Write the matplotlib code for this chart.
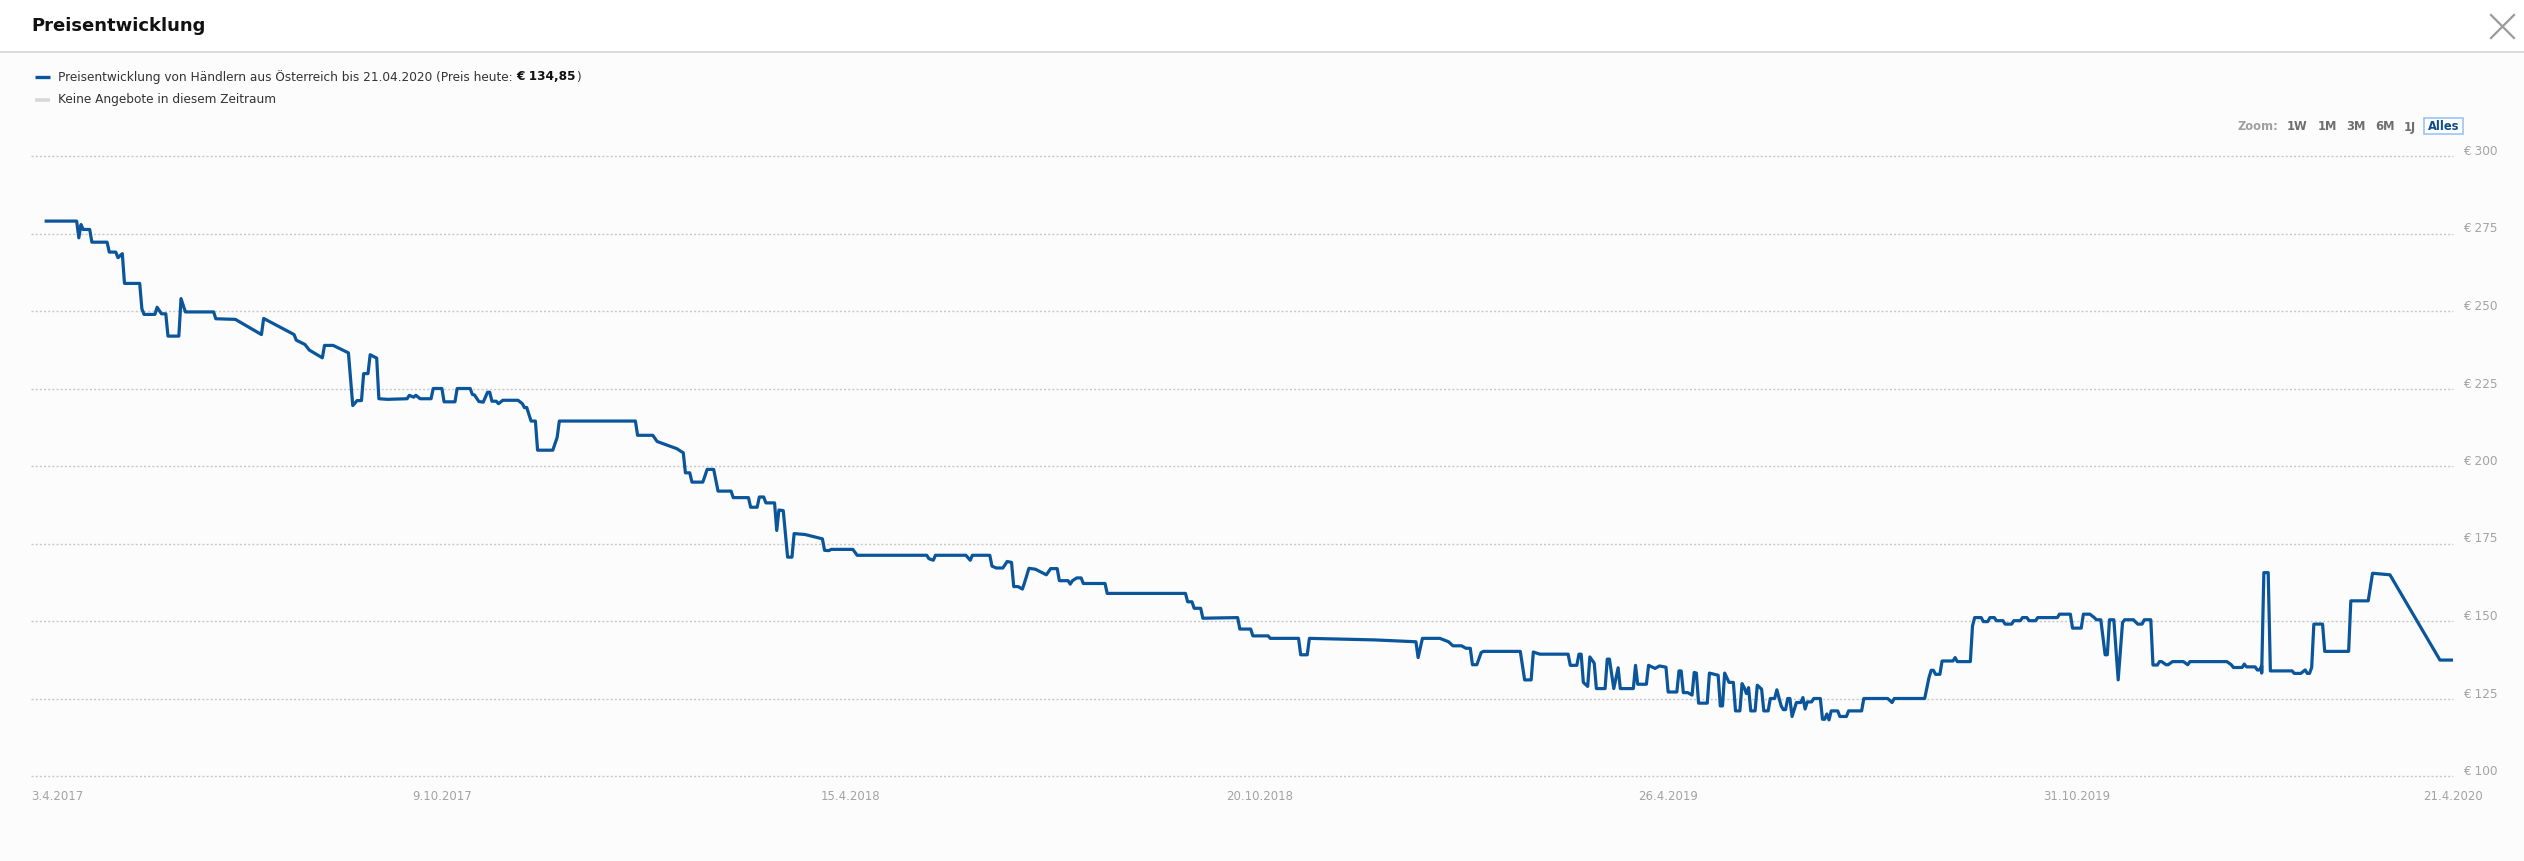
import pandas as pd
import matplotlib.pyplot as plt
import matplotlib.transforms as mtransforms
from matplotlib.lines import Line2D
from matplotlib.patches import Rectangle

W, H = 2524, 861

# price history, days counted from the first x label (3.4.2017)
first_day = "2017-04-03"
last_day = "2020-04-21"

price_days = [
    7, 21, 22, 23, 24, 27, 28, 35, 36, 39, 40, 42, 43, 50, 51, 52, 57, 58, 60, 62,
    63, 68, 69, 71, 84, 85, 94, 106, 107, 121, 122, 126, 128, 134, 135, 139, 146, 148, 150, 152,
    153, 155, 156, 159, 160, 164, 173, 174, 176, 177, 179, 184, 185, 189, 190, 195, 196, 202, 203, 204,
    206, 208, 210, 211, 212, 214, 215, 217, 224, 226, 227,
    228, 230, 232, 233, 240, 242, 243, 278, 279, 286, 288, 297, 299, 300, 301, 303, 304, 309, 311, 314,
    316, 322, 323, 330, 331, 334, 335, 337, 338, 342, 343, 344, 346, 348, 350, 351, 356, 364, 365, 367,
    368, 378, 380, 412, 413, 415, 416, 430, 432, 433, 441, 442, 444, 447,
    449, 451, 452, 454, 456, 457, 459, 462, 467, 469, 472, 473, 477, 478, 479, 481, 483, 484, 494, 495,
    531, 532, 534, 535, 538, 539, 555, 556, 561, 562, 569, 570, 583, 584, 587, 588, 618, 637, 638, 640,
    648, 652, 654, 658, 660, 662, 663, 665, 667, 668,
    685, 687, 690, 691, 694, 707, 708, 711, 712, 713, 714, 716, 717, 719, 720, 724, 725, 726, 728, 730,
    731, 737, 738, 739, 743, 744, 747, 749, 752, 753, 757, 758, 759, 760, 762, 764, 765, 766, 767, 771,
    772, 776, 777, 778, 779, 781, 783, 784, 786, 787, 788, 789, 790, 791, 793, 794, 796, 797, 799, 800,
    802, 803, 805, 806, 807, 808, 809, 810, 812, 814, 815, 816, 817, 819, 820, 823, 824, 825, 826, 827,
    828, 831, 832, 835, 836, 842, 843, 854, 856, 857, 871, 873, 874, 875, 876, 878, 879, 884, 885, 886,
    892,
    893, 894, 897, 898, 900, 901, 903, 904, 907, 908, 911, 912, 915, 916, 918, 919, 922, 923, 932, 933,
    938, 939, 943, 944, 947, 949, 950, 952, 954, 955, 956, 958, 960, 962, 963, 967, 969, 971, 972, 975,
    976, 978, 979, 980, 982, 983, 985, 990, 992, 993, 1010, 1012, 1013, 1017, 1018, 1019, 1023, 1024, 1025, 1026,
    1026, 1027, 1029, 1030, 1040, 1041, 1044, 1046, 1047, 1048, 1049, 1050, 1054, 1055, 1066, 1067, 1075, 1077, 1085, 1108,
    1114,
]

price_eur = [
    279.0, 279.0, 273.6, 277.9, 276.3, 276.3, 272.2, 272.2, 269.0, 269.0, 267.2, 268.5, 258.9, 258.9, 250.7, 248.9, 248.9, 251.2, 249.1, 249.1,
    241.9, 241.9, 254.0, 249.7, 249.7, 247.5, 247.3, 242.4, 247.6, 242.4, 240.6, 239.2, 237.4, 234.9, 238.9, 238.9, 236.5, 219.5, 221.1, 221.1,
    229.8, 229.8, 235.9, 234.8, 221.7, 221.5, 221.7, 222.8, 222.2, 222.8, 221.7, 221.7, 225.0, 225.0, 220.7, 220.7, 225.0, 225.0, 223.1, 222.9,
    220.8, 220.6, 223.8, 223.8, 220.9, 220.9, 220.1, 221.2, 221.2, 220.1, 218.8,
    218.9, 214.5, 214.5, 205.1, 205.1, 209.2, 214.5, 214.5, 209.9, 209.9, 207.9, 205.6, 204.7, 204.3, 197.8, 197.8, 194.8, 194.8, 198.9, 198.9,
    191.9, 191.9, 189.8, 189.8, 186.7, 186.7, 190.0, 190.0, 188.1, 188.1, 179.2, 185.8, 185.6, 170.6, 170.6, 178.2, 177.9, 176.5, 172.8, 172.7,
    173.1, 173.1, 171.2, 171.2, 170.1, 169.6, 171.2, 171.2, 169.6, 171.2, 171.2, 167.7, 167.1, 167.1,
    169.2, 168.9, 161.1, 161.1, 160.3, 162.4, 167.0, 166.7, 164.9, 166.9, 166.9, 163.0, 163.0, 161.9, 163.0, 163.9, 163.9, 162.1, 162.1, 158.9,
    158.9, 156.2, 156.2, 154.1, 154.1, 150.9, 151.1, 147.4, 147.4, 145.2, 145.2, 144.4, 144.4, 139.1, 139.1, 144.4, 143.9, 143.3, 138.2, 144.4,
    144.4, 143.3, 142.0, 142.0, 141.2, 141.2, 135.9, 135.9, 139.8, 140.2,
    140.2, 131.0, 131.0, 140.0, 139.3, 139.3, 135.7, 135.7, 139.3, 139.3, 130.2, 128.9, 138.4, 136.4, 128.2, 128.2, 137.7, 137.7, 128.2, 134.9,
    128.2, 128.2, 135.7, 129.6, 129.6, 135.7, 134.7, 135.5, 135.1, 127.1, 127.1, 133.9, 133.9, 126.9, 126.9, 126.1, 133.4, 133.2, 123.5, 123.5,
    133.2, 132.5, 122.6, 122.6, 133.2, 130.2, 130.2, 121.0, 121.0, 129.8, 128.5, 126.6, 128.5, 121.0, 121.0, 129.3, 128.0, 121.0, 121.0, 125.0,
    125.0, 127.8, 122.6, 121.4, 121.4, 125.0, 125.0, 119.2, 123.7, 123.7, 125.3, 121.6, 123.9, 123.9, 125.0, 125.0, 118.3, 118.3, 120.0, 118.1,
    121.0, 121.0, 119.2, 119.2, 121.0, 121.0, 125.0, 125.0, 123.7, 125.0, 125.0, 131.8, 134.1, 134.1, 132.8, 132.8, 137.1, 137.1, 138.2, 136.9,
    136.9,
    148.4, 151.1, 151.1, 149.8, 149.8, 151.1, 151.1, 150.1, 150.1, 149.0, 149.0, 150.1, 150.1, 151.1, 151.1, 150.1, 150.1, 151.1, 151.1, 152.2,
    152.2, 147.7, 147.7, 152.2, 152.2, 151.1, 150.4, 150.4, 139.1, 139.1, 150.4, 150.4, 131.0, 149.5, 150.4, 150.4, 149.0, 149.0, 150.4, 150.4,
    135.8, 135.8, 136.9, 136.9, 135.9, 135.9, 136.9, 136.9, 135.9, 136.9, 136.9, 135.9, 135.0, 135.0, 136.1, 135.2, 135.2, 134.2, 134.2, 135.5,
    133.2, 165.6, 165.6, 133.9, 133.9, 133.1, 133.1, 134.2, 133.1, 133.1, 135.0, 149.0, 149.0, 140.2, 140.2, 156.5, 156.5, 165.4, 164.9, 137.4,
    137.4,
]

x_tick_dates = ["2017-04-03", "2017-10-09", "2018-04-15", "2018-10-20", "2019-04-26", "2019-10-31", "2020-04-21"]
x_tick_labels = ["3.4.2017", "9.10.2017", "15.4.2018", "20.10.2018", "26.4.2019", "31.10.2019", "21.4.2020"]
y_ticks = [100, 125, 150, 175, 200, 225, 250, 275, 300]
zoom_buttons = ["1W", "1M", "3M", "6M", "1J"]


def px(x, y):
    return x / W, 1 - y / H


blue = "#0b559b"
grey_txt = "#a3a3a3"
fs = 8.7

fig = plt.figure(figsize=(W / 100, H / 100), dpi=100, facecolor="#fcfcfc")

# header bar
fig.add_artist(Rectangle((0, 1 - 52 / H), 1, 52 / H, transform=fig.transFigure,
                         facecolor="white", edgecolor="none", zorder=0))
fig.add_artist(Line2D([0, 1], [1 - 52 / H] * 2, color="#d6d6d6", lw=1.2))
fig.text(*px(31, 26), "Preisentwicklung", fontsize=13, fontweight="bold",
         va="center", color="#111111")
# close cross
for a, b in [((2491, 15), (2514, 38)), ((2491, 38), (2514, 15))]:
    fig.add_artist(Line2D([a[0] / W, b[0] / W], [1 - a[1] / H, 1 - b[1] / H],
                          color="#9a9a9a", lw=1.6))

# legend
fig.add_artist(Line2D([35 / W, 50 / W], [1 - 77 / H] * 2, color=blue, lw=2.4, solid_capstyle="butt"))
fig.add_artist(Line2D([35 / W, 50 / W], [1 - 100 / H] * 2, color="#d8d8d8", lw=2.6, solid_capstyle="butt"))
t1 = fig.text(*px(58, 77), "Preisentwicklung von Händlern aus Österreich bis 21.04.2020 (Preis heute:",
              fontsize=fs, va="center", color="#333333")
fig.text(*px(58, 100), "Keine Angebote in diesem Zeitraum", fontsize=fs, va="center", color="#333333")
fig.canvas.draw()
r = fig.canvas.get_renderer()
bb = t1.get_window_extent(r)
t2 = fig.text((bb.x1 + 4) / W, 1 - 77 / H, "€ 134,85", fontsize=fs, fontweight="bold",
              va="center", color="#111111")
bb2 = t2.get_window_extent(r)
fig.text(bb2.x1 / W, 1 - 77 / H, ")", fontsize=fs, va="center", color="#333333")

# zoom buttons
fig.text(*px(2238, 127), "Zoom:", fontsize=8.3, fontweight="bold", va="center", color="#a0a0a0")
for lbl, x in zip(zoom_buttons, [2287, 2318, 2346, 2375, 2404]):
    fig.text(*px(x, 127), lbl, fontsize=8.3, fontweight="bold", va="center", color="#6e6e6e")
fig.add_artist(Rectangle(px(2424, 134), 39 / W, 16 / H, transform=fig.transFigure,
                         facecolor="white", edgecolor="#9cc3f2", lw=1.2))
fig.text(*px(2443.5, 127), "Alles", fontsize=8.3, fontweight="bold", va="center", ha="center",
         color="#0b4d8c")

# chart
left, right, top, bottom = 31, 2453, 156, 776
ax = fig.add_axes([left / W, 1 - bottom / H, (right - left) / W, (bottom - top) / H])
ax.set_facecolor("none")

dates = pd.to_datetime(first_day) + pd.to_timedelta(price_days, unit="D")
ax.plot(dates, price_eur, color=blue, lw=2.3, solid_joinstyle="round", zorder=3)

ax.set_xlim(pd.to_datetime(first_day), pd.to_datetime(last_day))
ax.set_ylim(100, 300)
for s in ax.spines.values():
    s.set_visible(False)

ax.set_yticks(y_ticks)
ax.set_yticklabels([f"€ {v}" for v in y_ticks])
ax.yaxis.tick_right()
ax.yaxis.grid(True, color="#c8c8c8", linestyle=(0, (1.5, 1.5)), linewidth=1.0)
for gl in ax.get_ygridlines():
    gl.set_clip_on(False)
ax.tick_params(axis="y", length=0, pad=7, labelsize=fs, labelcolor=grey_txt)
off = mtransforms.ScaledTranslation(0, 0.06, fig.dpi_scale_trans)
for lbl in ax.get_yticklabels():
    lbl.set_transform(lbl.get_transform() + off)

ax.set_xticks(pd.to_datetime(x_tick_dates))
ax.set_xticklabels(x_tick_labels)
ax.tick_params(axis="x", length=0, pad=10, labelsize=8.5, labelcolor=grey_txt)
ax.get_xticklabels()[0].set_ha("left")

fig.savefig("out.png", dpi=100, facecolor=fig.get_facecolor())
